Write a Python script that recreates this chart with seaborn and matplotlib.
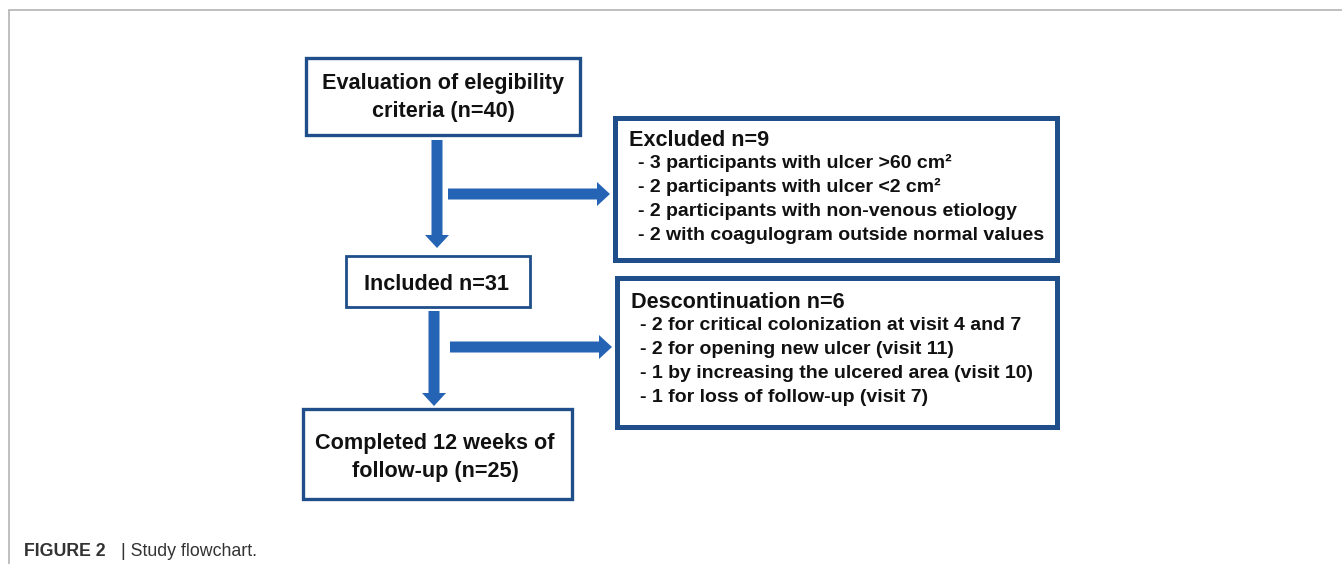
import matplotlib
matplotlib.use("Agg")
import matplotlib.pyplot as plt
from matplotlib.patches import Rectangle, FancyArrow
import seaborn as sns

# box texts
eval_lines = ["Evaluation of elegibility", "criteria (n=40)"]
included_label = "Included n=31"
completed_lines = ["Completed 12 weeks of", "follow-up (n=25)"]
excluded_title = "Excluded n=9"
excluded_items = ["- 3 participants with ulcer >60 cm\u00b2",
                  "- 2 participants with ulcer <2 cm\u00b2",
                  "- 2 participants with non-venous etiology",
                  "- 2 with coagulogram outside normal values"]
discont_title = "Descontinuation n=6"
discont_items = ["- 2 for critical colonization at visit 4 and 7",
                 "- 2 for opening new ulcer (visit 11)",
                 "- 1 by increasing the ulcered area (visit 10)",
                 "- 1 for loss of follow-up (visit 7)"]
caption_bold = "FIGURE 2"
caption_rest = "| Study flowchart."

sns.set_theme(style="white")
plt.rcParams['font.family'] = ['Liberation Sans', 'DejaVu Sans']

BOX = "#1f4e8a"
ARROW = "#2563b4"
TXT = "#111111"
BIG = 15.6
SMALL = 14.0

fig = plt.figure(figsize=(13.42, 5.64), dpi=100)
ax = fig.add_axes([0, 0, 1, 1])
ax.set_xlim(0, 1342)
ax.set_ylim(564, 0)
ax.axis("off")

# gray frame
ax.plot([9, 1342], [10, 10], color="#b4b4b4", lw=1.2)
ax.plot([9, 9], [10, 564], color="#b4b4b4", lw=1.2)


def box(x0, y0, x1, y1, lw):
    ax.add_patch(Rectangle((x0, y0), x1 - x0, y1 - y0, fill=False,
                           edgecolor=BOX, lw=lw, zorder=3))


def arrow(x, y, dx, dy):
    ax.add_patch(FancyArrow(x, y, dx, dy, width=11, head_width=24,
                            head_length=13, length_includes_head=True,
                            color=ARROW, lw=0, zorder=2))


# left column
box(306, 58, 580, 135, 2.4)
for i, t in enumerate(eval_lines):
    ax.text(443, 84 + i * 28, t, ha="center", va="center",
            fontsize=BIG, fontweight="bold", color=TXT)

box(346, 256, 530, 307, 2.0)
ax.text(437, 285, included_label, ha="center", va="center",
        fontsize=BIG, fontweight="bold", color=TXT)

box(303, 409, 572, 499, 2.4)
for i, t in enumerate(completed_lines):
    ax.text(435, 444 + i * 28, t, ha="center", va="center",
            fontsize=BIG, fontweight="bold", color=TXT)

# right column
box(615, 118, 1057, 260, 3.6)
ax.text(629, 141, excluded_title, ha="left", va="center",
        fontsize=BIG, fontweight="bold", color=TXT)
for i, t in enumerate(excluded_items):
    ax.text(638, 163 + i * 24.3, t, ha="left", va="center",
            fontsize=SMALL, fontweight="bold", color=TXT)

box(617, 278, 1057, 427, 3.6)
ax.text(631, 302, discont_title, ha="left", va="center",
        fontsize=BIG, fontweight="bold", color=TXT)
for i, t in enumerate(discont_items):
    ax.text(640, 326 + i * 24, t, ha="left", va="center",
            fontsize=SMALL, fontweight="bold", color=TXT)

# arrows
arrow(437, 140, 0, 108)
arrow(448, 194, 162, 0)
arrow(434, 311, 0, 95)
arrow(450, 347, 162, 0)

# caption
ax.text(24, 551, caption_bold, ha="left", va="center",
        fontsize=12.8, fontweight="bold", color="#333333")
ax.text(121, 551, caption_rest, ha="left", va="center",
        fontsize=12.8, color="#333333")

fig.savefig("out.png", dpi=100)
